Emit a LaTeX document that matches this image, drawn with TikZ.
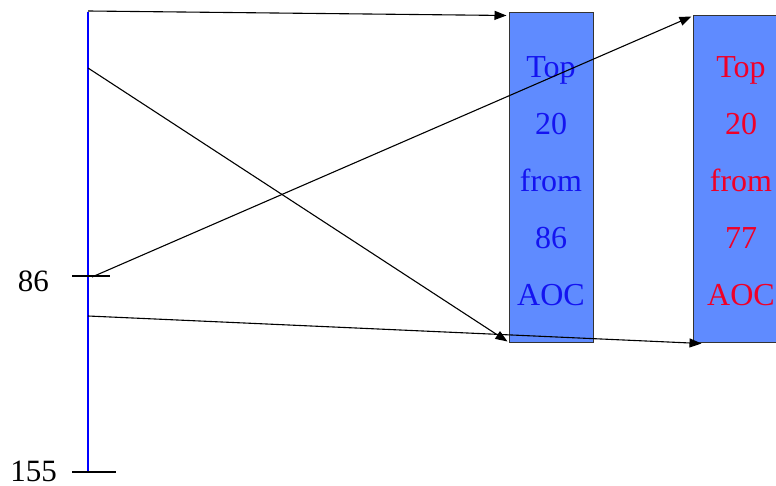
\documentclass[tikz,border=0pt]{standalone}
\usepackage{fontspec}
\setmainfont{Liberation Serif}
\usetikzlibrary{arrows.meta,calc}
\definecolor{boxfill}{RGB}{95,139,255}
\definecolor{txtblue}{RGB}{20,20,240}
\definecolor{txtred}{RGB}{240,0,40}
\begin{document}
\begin{tikzpicture}[x=1pt,y=-1pt,
  bar/.style={draw=black!80,line width=1pt,fill=boxfill,minimum width=84pt,inner sep=0pt},
  words/.style={align=center,font=\fontsize{32}{57}\selectfont,inner sep=0pt},
  link/.style={line width=1.1pt,-{Triangle[length=12pt,width=9pt]}},
  tick/.style={line width=1.1pt},
  lab/.style={font=\fontsize{31}{36}\selectfont,inner sep=0pt,anchor=east}]
\useasboundingbox (0,0) rectangle (776,486);
% scale axis
\coordinate (atop) at (88,12);
\coordinate (abot) at (88,472);
\draw[blue,line width=1.1pt] (atop) -- (abot);
\coordinate (t86a) at (72,276);
\coordinate (t86b) at (110,276);
\coordinate (t155a) at (72,472);
\coordinate (t155b) at (116,472);
\draw[tick] (t86a) -- (t86b);
\draw[tick] (t155a) -- (t155b);
\node[lab] (l86) at (49,281) {86};
\node[lab] (l155) at (57,471) {155};
% ranked boxes
\node[bar,minimum height=329pt] (b1) at (551,177.5) {};
\node[bar,minimum height=326pt] (b2) at (735,179) {};
\node[words,text=txtblue] (w1) at (551,181) {Top\\20\\from\\86\\AOC};
\node[words,text=txtred] (w2) at (741,181) {Top\\20\\from\\77\\AOC};
% start points on the axis
\coordinate (s1) at (88,11);
\coordinate (s2) at (88,68);
\coordinate (s3) at (92,277);
\coordinate (s4) at (88,316);
\draw[link] (s1) -- ($(b1.north west)+(-2,3)$);
\draw[link] (s2) -- ($(b1.south west)+(-1,-1)$);
\draw[link] (s3) -- ($(b2.north west)+(-1,1)$);
\draw[link] (s4) -- ($(b2.south west)+(9,1)$);
\end{tikzpicture}
\end{document}
